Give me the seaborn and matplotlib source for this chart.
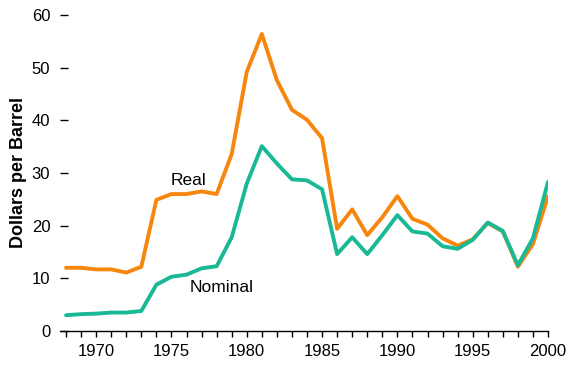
import numpy as np
import pandas as pd
import matplotlib
matplotlib.use("Agg")
import matplotlib.pyplot as plt
import seaborn as sns
from matplotlib.ticker import MultipleLocator

# ---- data ----
years = list(range(1968, 2001))
real = [12.0, 12.0, 11.7, 11.7, 11.1, 12.2, 24.9, 26.0, 26.0, 26.5, 26.0, 33.6,
        49.2, 56.4, 47.6, 42.0, 40.1, 36.6, 19.4, 23.1, 18.2, 21.6, 25.6, 21.3,
        20.2, 17.6, 16.2, 17.4, 20.5, 18.9, 12.2, 16.5, 25.6]
nominal = [3.0, 3.2, 3.3, 3.5, 3.5, 3.8, 8.8, 10.3, 10.7, 11.9, 12.3, 17.8,
           28.0, 35.1, 31.8, 28.8, 28.6, 26.9, 14.6, 17.8, 14.6, 18.2, 22.0, 18.9,
           18.5, 16.1, 15.6, 17.3, 20.6, 19.0, 12.5, 17.6, 28.3]

df = pd.DataFrame({"year": years, "Real": real, "Nominal": nominal})

sns.set_style("white")
plt.rcParams["font.family"] = ["Liberation Sans", "DejaVu Sans"]
plt.rcParams["text.color"] = "black"
plt.rcParams["axes.labelcolor"] = "black"
plt.rcParams["xtick.color"] = "black"
plt.rcParams["ytick.color"] = "black"

fig = plt.figure(figsize=(5.79, 3.71), dpi=100)
ax = fig.add_axes([60 / 579, 40 / 371, 488 / 579, 316 / 371])

sns.lineplot(data=df, x="year", y="Real", color="#F7860F", linewidth=2.8, ax=ax)
sns.lineplot(data=df, x="year", y="Nominal", color="#19B996", linewidth=2.8, ax=ax)

ax.set_xlim(1967.6, 2000)
ax.set_ylim(0, 60)
ax.xaxis.set_major_locator(MultipleLocator(5))
ax.xaxis.set_minor_locator(MultipleLocator(1))
ax.set_yticks(range(0, 61, 10))

for s in ["top", "right", "left"]:
    ax.spines[s].set_visible(False)
ax.spines["bottom"].set_color("black")
ax.spines["bottom"].set_linewidth(1)

ax.tick_params(axis="x", which="both", direction="out", length=4, width=1,
               color="black", labelcolor="black", labelsize=12, pad=5, bottom=True)
ax.tick_params(axis="y", direction="in", length=6, width=1, color="black",
               labelcolor="black", labelsize=12, pad=7, left=True)

ax.set_xlabel("")
ax.set_ylabel("Dollars per Barrel", fontsize=13, fontweight="bold", labelpad=3,
              color="black")

ax.text(1976.1, 28.6, "Real", fontsize=12.5, ha="center", va="center", color="black")
ax.text(1978.3, 8.3, "Nominal", fontsize=12.5, ha="center", va="center", color="black")

fig.savefig("out.png", dpi=100)
